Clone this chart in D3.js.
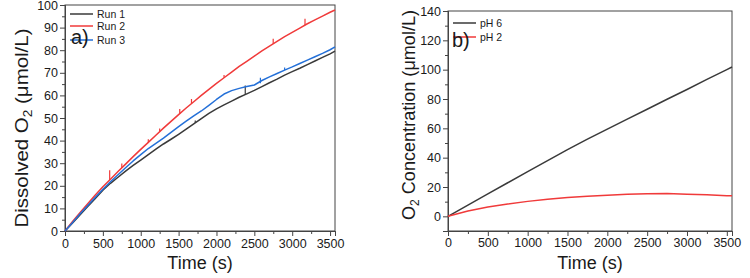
<!DOCTYPE html>
<html>
<head>
<meta charset="utf-8">
<script src="https://d3js.org/d3.v7.min.js"></script>
<style>
  body { margin: 0; background: #fff; }
  text { font-family: "Liberation Sans", Arial, sans-serif; fill: #1a1a1a; }
</style>
</head>
<body>
<script>
// ---- panel a) data (time in s, dissolved O2 in umol/L) ----
var timeA = [0, 100, 200, 300, 400, 500, 600, 700, 800, 900, 1000, 1100, 1200, 1300, 1400, 1500,
  1600, 1700, 1800, 1900, 2000, 2100, 2200, 2300, 2400, 2500, 2600, 2700, 2800, 2900, 3000,
  3100, 3200, 3300, 3400, 3500, 3565];
var run1 = [0, 3.6, 7.2, 10.8, 14.4, 18.0, 21.1, 23.8, 26.5, 29.0, 31.4, 33.8, 36.2, 38.5, 40.6, 42.8,
  45.1, 47.4, 49.7, 52.0, 54.0, 55.8, 57.5, 59.2, 60.7, 62.2, 63.9, 65.6, 67.2, 69.0, 70.5,
  72.0, 73.6, 75.2, 76.8, 78.4, 79.6];
var run2 = [0, 4.2, 8.2, 12.1, 15.9, 19.6, 22.9, 26.3, 29.6, 32.9, 36.1, 39.2, 42.4, 45.5, 48.5, 51.5,
  54.4, 57.2, 60.0, 62.7, 65.3, 67.8, 70.3, 72.8, 75.1, 77.4, 79.7, 81.8, 83.9, 86.0, 87.9,
  89.8, 91.7, 93.4, 95.1, 96.8, 97.8];
var run3 = [0, 3.8, 7.6, 11.3, 14.9, 18.5, 21.8, 24.9, 28.0, 31.0, 33.8, 36.5, 38.8, 41.1, 43.6, 46.2,
  48.6, 50.9, 53.1, 55.6, 58.2, 60.6, 62.1, 63.1, 63.9, 64.6, 66.6, 68.2, 69.7, 71.2, 72.6,
  74.1, 75.6, 77.1, 78.6, 80.2, 81.5];
// noise spikes: [time, base, peak]
var spikes1 = [[2380, 60.4, 64.4], [1720, 47.8, 48.9]];
var spikes2 = [[590, 22.6, 26.9], [750, 27.9, 29.9], [1100, 39.2, 40.6], [1250, 43.9, 45.4],
  [1515, 51.9, 54.0], [1670, 56.4, 58.4], [2100, 67.8, 69.0], [2749, 82.8, 85.1], [3169, 91.2, 93.9]];
var spikes3 = [[2580, 65.4, 67.8], [2900, 71.2, 72.4]];
var legendA = ["Run 1", "Run 2", "Run 3"];

// ---- panel b) data ----
var timeB = [0, 250, 500, 750, 1000, 1250, 1500, 1750, 2000, 2250, 2500, 2750, 3000, 3250, 3500, 3565];
var ph6 = [0, 7.7, 15.3, 22.9, 30.5, 38.0, 45.5, 52.6, 59.5, 66.3, 73.0, 79.8, 86.5, 93.4, 100.0, 101.8];
var ph2 = [0, 3.6, 6.4, 8.4, 10.2, 11.6, 12.8, 13.7, 14.4, 15.0, 15.4, 15.5, 15.1, 14.7, 14.1, 14.0];
var legendB = ["pH 6", "pH 2"];

var xTicks = [0, 500, 1000, 1500, 2000, 2500, 3000, 3500];
var xMinor = [250, 750, 1250, 1750, 2250, 2750, 3250];
var yTicksA = [0, 10, 20, 30, 40, 50, 60, 70, 80, 90, 100];
var yMinorA = [5, 15, 25, 35, 45, 55, 65, 75, 85, 95];
var yTicksB = [0, 20, 40, 60, 80, 100, 120, 140];
var yMinorB = [-10, 10, 30, 50, 70, 90, 110, 130];

var BLACK = "#3a3a3a", RED = "#f03a3a", BLUE = "#2470d8";

var svg = d3.select("body").append("svg")
  .attr("width", 750)
  .attr("height", 278);

function panel(opt) {
  var x = d3.scaleLinear().domain([0, 3565]).range([opt.left, opt.right]);
  var y = d3.scaleLinear().domain(opt.yDomain).range([opt.bottom, opt.top]);
  var g = svg.append("g");

  // frame
  g.append("rect")
    .attr("x", opt.left).attr("y", opt.top)
    .attr("width", opt.right - opt.left).attr("height", opt.bottom - opt.top)
    .attr("fill", "none").attr("stroke", "#444").attr("stroke-width", 1);

  // axes
  var ax = g.append("g").attr("transform", "translate(0," + opt.bottom + ")")
    .call(d3.axisBottom(x).tickValues(xTicks).tickSize(5).tickPadding(opt.xPad).tickFormat(d3.format("d")));
  g.append("g").attr("transform", "translate(0," + opt.bottom + ")")
    .call(d3.axisBottom(x).tickValues(xMinor).tickSize(3).tickFormat(""));
  var ay = g.append("g").attr("transform", "translate(" + opt.left + ",0)")
    .call(d3.axisLeft(y).tickValues(opt.yTicks).tickSize(5).tickPadding(2));
  g.append("g").attr("transform", "translate(" + opt.left + ",0)")
    .call(d3.axisLeft(y).tickValues(opt.yMinor).tickSize(3).tickFormat(""));
  g.selectAll(".domain").attr("stroke", "#444");
  g.selectAll(".tick line").attr("stroke", "#444");
  g.selectAll(".tick text").attr("font-size", 12.5).attr("fill", "#1a1a1a")
    .attr("font-family", "Liberation Sans, Arial, sans-serif");

  // lines
  var line = d3.line()
    .x(function(d) { return x(d[0]); })
    .y(function(d) { return y(d[1]); });
  opt.series.forEach(function(s) {
    var pts = opt.time.map(function(t, i) { return [t, s.values[i]]; });
    g.append("path").datum(pts)
      .attr("fill", "none").attr("stroke", s.color).attr("stroke-width", 1.5)
      .attr("stroke-linejoin", "round")
      .attr("d", line);
    (s.spikes || []).forEach(function(k) {
      g.append("line")
        .attr("x1", x(k[0])).attr("x2", x(k[0]))
        .attr("y1", y(k[1])).attr("y2", y(k[2]))
        .attr("stroke", s.color).attr("stroke-width", 1.2);
    });
  });

  // legend
  opt.series.forEach(function(s, i) {
    var ly = opt.legendY[i];
    g.append("line")
      .attr("x1", opt.legendX).attr("x2", opt.legendX + 23)
      .attr("y1", ly).attr("y2", ly)
      .attr("stroke", s.color).attr("stroke-width", 1.5);
    g.append("text")
      .attr("x", opt.legendX + 27).attr("y", ly).attr("dy", "0.35em")
      .attr("font-size", 10.5)
      .text(s.name);
  });

  // panel letter
  g.append("text")
    .attr("x", opt.letterX).attr("y", opt.letterY)
    .attr("font-family", "Liberation Serif, Times New Roman, serif")
    .attr("font-size", 20)
    .text(opt.letter);

  // x title
  g.append("text")
    .attr("x", (opt.left + opt.right) / 2).attr("y", opt.bottom + 38)
    .attr("text-anchor", "middle").attr("font-size", 18)
    .text("Time (s)");

  // y title with subscript
  var yt = g.append("text")
    .attr("transform", "translate(" + opt.yTitleX + "," + opt.yTitleY + ") rotate(-90)")
    .attr("text-anchor", "middle").attr("font-size", 18)
    .attr("textLength", opt.yTitleLen).attr("lengthAdjust", "spacingAndGlyphs");
  opt.yTitle.forEach(function(p) {
    yt.append("tspan")
      .attr("font-size", p.sub ? 12 : 18)
      .attr("dy", p.sub ? 4 : (p.after ? -4 : 0))
      .text(p.t);
  });
}

panel({
  left: 65, right: 335, top: 5, bottom: 231,
  yDomain: [0, 100], yTicks: yTicksA, yMinor: yMinorA, xPad: 3,
  time: timeA,
  series: [
    { name: legendA[0], values: run1, color: BLACK, spikes: spikes1 },
    { name: legendA[1], values: run2, color: RED, spikes: spikes2 },
    { name: legendA[2], values: run3, color: BLUE, spikes: spikes3 }
  ],
  legendX: 70, legendY: [14, 26, 40],
  letter: "a)", letterX: 71, letterY: 44,
  yTitleX: 28, yTitleY: 128, yTitleLen: 199,
  yTitle: [{ t: "Dissolved O" }, { t: "2", sub: true }, { t: " (\u03bcmol/L)", after: true }]
});

panel({
  left: 448, right: 732, top: 11, bottom: 231,
  yDomain: [-10, 140], yTicks: yTicksB, yMinor: yMinorB, xPad: 2,
  time: timeB,
  series: [
    { name: legendB[0], values: ph6, color: BLACK },
    { name: legendB[1], values: ph2, color: RED }
  ],
  legendX: 453, legendY: [23, 37],
  letter: "b)", letterX: 452, letterY: 47,
  yTitleX: 415, yTitleY: 115, yTitleLen: 210,
  yTitle: [{ t: "O" }, { t: "2", sub: true }, { t: " Concentration (\u03bcmol/L)", after: true }]
});
</script>
</body>
</html>
